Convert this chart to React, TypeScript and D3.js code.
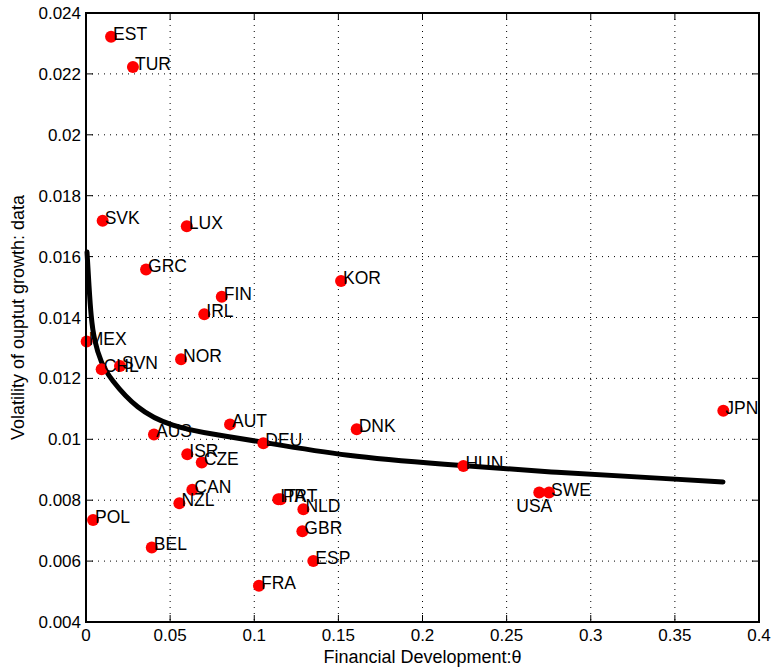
import React from "react";
import * as d3 from "d3";

const countries = ["EST","TUR","SVK","LUX","GRC","FIN","IRL","KOR","MEX","CHL","SVN","NOR","AUT","AUS","DEU","DNK","JPN","ISR","CZE","HUN","CAN","NZL","ITA","PRT","NLD","USA","SWE","POL","GBR","BEL","ESP","FRA"];
const finDev = [0.0149,0.0279,0.0099,0.0599,0.0357,0.0807,0.0703,0.1516,0.0004,0.0093,0.0202,0.0565,0.0856,0.0404,0.1054,0.1609,0.3788,0.0602,0.0688,0.2243,0.0632,0.0555,0.1143,0.1157,0.1292,0.2694,0.2752,0.0042,0.1286,0.0391,0.1351,0.1028];
const volatility = [0.02322,0.02223,0.01718,0.01700,0.01558,0.01468,0.01411,0.01520,0.01321,0.01230,0.01241,0.01263,0.01049,0.01016,0.00987,0.01033,0.01094,0.00951,0.00924,0.00912,0.00834,0.00790,0.00803,0.00803,0.00770,0.00825,0.00825,0.00735,0.00698,0.00645,0.00600,0.00519];

const fitX = [0.0006,0.0018,0.0030,0.0048,0.0090,0.0143,0.0300,0.0500,0.0800,0.0975,0.1569,0.2104,0.2800,0.3489,0.3786];
const fitY = [0.01615,0.01500,0.01402,0.01326,0.01250,0.01200,0.01100,0.01042,0.01012,0.00998,0.00942,0.00919,0.00890,0.00870,0.00860];

const xTicks = [0,0.05,0.1,0.15,0.2,0.25,0.3,0.35,0.4];
const xTickLabels = ["0","0.05","0.1","0.15","0.2","0.25","0.3","0.35","0.4"];
const yTicks = [0.004,0.006,0.008,0.01,0.012,0.014,0.016,0.018,0.02,0.022,0.024];
const yTickLabels = ["0.004","0.006","0.008","0.01","0.012","0.014","0.016","0.018","0.02","0.022","0.024"];

const W = 772, H = 668;
const L = 86, R = 759, T = 13, B = 622;
const FONT = "'Liberation Sans', Arial, Helvetica, sans-serif";

export default function App() {
  const x = d3.scaleLinear().domain([0, 0.4]).range([L, R]);
  const y = d3.scaleLinear().domain([0.004, 0.024]).range([B, T]);
  const line = d3.line<number>().x((_, i) => x(fitX[i])).y((_, i) => y(fitY[i])).curve(d3.curveBasis);
  const tk = 7;
  return (
    <svg width={W} height={H} style={{ position: "absolute", left: 0, top: 0, background: "#fff" }} fontFamily={FONT}>
      <rect x={0} y={0} width={W} height={H} fill="#fff" />
      <g stroke="#000" strokeWidth={1} strokeDasharray="1,5">
        {xTicks.slice(1, -1).map((t) => (
          <line key={"gx" + t} x1={x(t)} x2={x(t)} y1={T} y2={B} />
        ))}
        {yTicks.slice(1, -1).map((t) => (
          <line key={"gy" + t} x1={L} x2={R} y1={y(t)} y2={y(t)} />
        ))}
      </g>
      <g stroke="#000" strokeWidth={1}>
        {xTicks.map((t) => (
          <g key={"tx" + t}>
            <line x1={x(t)} x2={x(t)} y1={B} y2={B - tk} />
            <line x1={x(t)} x2={x(t)} y1={T} y2={T + tk} />
          </g>
        ))}
        {yTicks.map((t) => (
          <g key={"ty" + t}>
            <line x1={L} x2={L + tk} y1={y(t)} y2={y(t)} />
            <line x1={R} x2={R - tk} y1={y(t)} y2={y(t)} />
          </g>
        ))}
      </g>
      <path d={line(fitX) || ""} fill="none" stroke="#000" strokeWidth={5} strokeLinecap="round" strokeLinejoin="round" />
      {countries.map((c, i) => (
        <circle key={"p" + c} cx={x(finDev[i])} cy={y(volatility[i])} r={6} fill="#ff0000" />
      ))}
      {countries.map((c, i) => {
        const px = x(finDev[i]);
        const py = y(volatility[i]);
        if (c === "USA") {
          return (
            <text key={"t" + c} x={px + 13} y={py + 19} fontSize={17.5} textAnchor="end" fill="#000">{c}</text>
          );
        }
        return (
          <text key={"t" + c} x={px + 2} y={py + 3} fontSize={17.5} fill="#000">{c}</text>
        );
      })}
      <rect x={L} y={T} width={R - L} height={B - T} fill="none" stroke="#000" strokeWidth={2} />
      {xTicks.map((t, i) => (
        <text key={"xl" + t} x={x(t)} y={641} fontSize={17} textAnchor="middle" fill="#000">{xTickLabels[i]}</text>
      ))}
      {yTicks.map((t, i) => (
        <text key={"yl" + t} x={81} y={y(t) + 6} fontSize={17} textAnchor="end" fill="#000">{yTickLabels[i]}</text>
      ))}
      <text x={(L + R) / 2} y={663} fontSize={18} textAnchor="middle" fill="#000">Financial Development:θ</text>
      <text transform={`translate(24,${(T + B) / 2}) rotate(-90)`} fontSize={18} textAnchor="middle" fill="#000">Volatility of ouptut growth: data</text>
    </svg>
  );
}
